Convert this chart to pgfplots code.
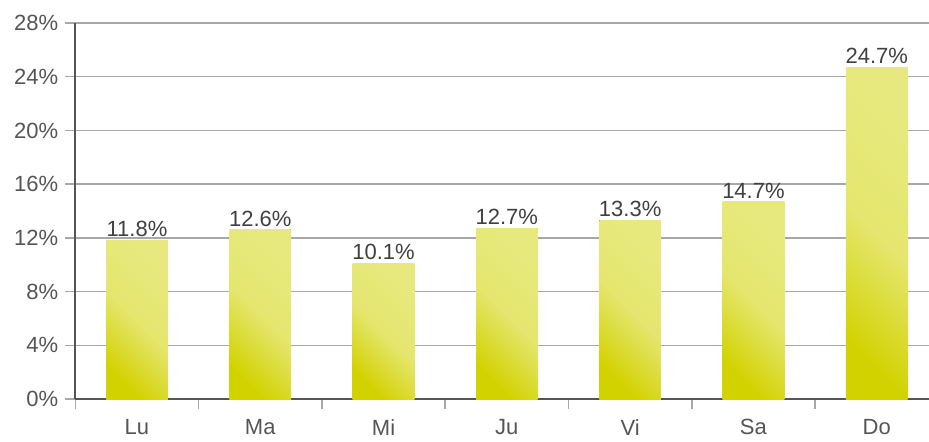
\documentclass[border=0pt]{standalone}
\usepackage{pgfplots}
\pgfplotsset{compat=1.18}
\usepackage{fontspec}
\setmainfont{Liberation Sans}
\definecolor{barlight}{HTML}{E7E97E}
\definecolor{bardark}{HTML}{D2D200}
\definecolor{txt}{HTML}{555555}
\definecolor{gridc}{HTML}{A8A8A8}
\definecolor{axc}{HTML}{555555}
\begin{document}
\begin{tikzpicture}
\begin{axis}[
  scale only axis,
  width=426.85pt, height=188pt,
  xmin=-0.5, xmax=6.424,
  ymin=0, ymax=28,
  axis lines=left,
  axis line style={-, axc, line width=1pt},
  ytick={0,4,...,28},
  yticklabel={\pgfmathprintnumber{\tick}\%},
  /pgf/number format/assume math mode=true,
  ymajorgrids,
  major grid style={gridc, line width=0.75pt},
  tick align=outside,
  major tick length=5pt,
  minor tick length=5pt,
  ytick style={gridc, line width=0.75pt},
  xtick={0,1,2,3,4,5,6},
  xticklabels={Lu,Ma,Mi,Ju,Vi,Sa,Do},
  minor xtick={-0.5,0.5,1.5,2.5,3.5,4.5,5.5},
  xtick style={draw=none},
  minor x tick style={draw=gridc, line width=0.75pt},
  ticklabel style={font=\fontsize{11}{13}\selectfont, text=txt},
  xticklabel style={yshift=-1.5pt},
  ybar, bar width=0.5, bar shift=0pt,
  nodes near coords={\pgfmathprintnumber[fixed,precision=1,fixed zerofill]{\pgfplotspointmeta}\%},
  nodes near coords style={font=\fontsize{11}{13}\selectfont, text=black!75, inner sep=1.5pt},
  every axis plot/.append style={draw=none, top color=barlight, bottom color=bardark, middle color=barlight!88!bardark, shading angle=-45},
  clip=false,
]
\addplot coordinates {(0,11.8)};
\addplot coordinates {(1,12.6)};
\addplot coordinates {(2,10.1)};
\addplot coordinates {(3,12.7)};
\addplot coordinates {(4,13.3)};
\addplot coordinates {(5,14.7)};
\addplot coordinates {(6,24.7)};
\end{axis}
\pgfresetboundingbox
\path (current axis.south west) ++(-37.65pt,-21pt) rectangle ++(464.5pt,220.5pt);
\end{tikzpicture}
\end{document}
